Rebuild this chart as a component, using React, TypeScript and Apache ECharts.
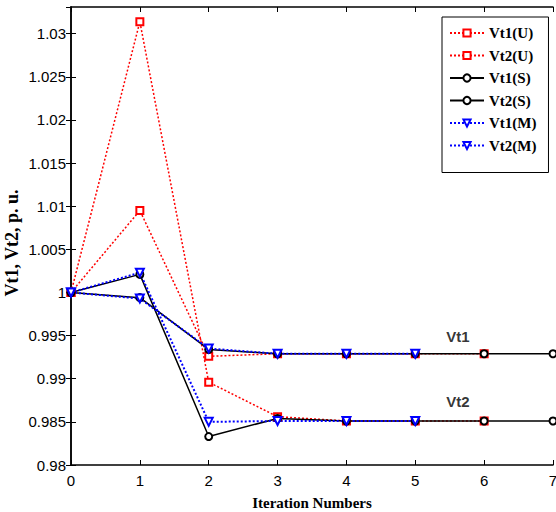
import React, { useEffect, useRef } from "react";
import * as echarts from "echarts";

const iterations = [0, 1, 2, 3, 4, 5, 6, 7];
const vt1U = [1, 1.0095, 0.9926, 0.9929, 0.9929, 0.9929, 0.9929];
const vt2U = [1, 1.0314, 0.9896, 0.9856, 0.9851, 0.9851, 0.9851];
const vt1S = [1, 0.9994, 0.9934, 0.9929, 0.9929, 0.9929, 0.9929, 0.9929];
const vt2S = [1, 1.0021, 0.9833, 0.9854, 0.9851, 0.9851, 0.9851, 0.9851];
const vt1M = [1, 0.9993, 0.9935, 0.9929, 0.9929, 0.9929];
const vt2M = [1, 1.0023, 0.985, 0.9851, 0.9851, 0.9851];

const seriesNames = ["Vt1(U)", "Vt2(U)", "Vt1(S)", "Vt2(S)", "Vt1(M)", "Vt2(M)"];
const annotationLabels = ["Vt1", "Vt2"];
const annotationX = [5.62, 5.62];
const annotationY = [0.9949, 0.9874];

const pairs = (vals: number[]) => vals.map((v, i) => [iterations[i], v]);

const SERIF = "'Liberation Serif', 'Times New Roman', serif";
const SANS = "'Liberation Sans', Arial, sans-serif";

export default function App() {
  const ref = useRef<HTMLDivElement>(null);
  useEffect(() => {
    if (!ref.current) return;
    const chart = echarts.init(ref.current, undefined, { renderer: "svg" });
    const red = "#ff0000";
    const blue = "#0000ff";
    const black = "#000000";
    const mk = (name: string, vals: number[], color: string, symbol: string, size: number, lineType: any, width: number, rotate = 0) => ({
      name,
      type: "line",
      data: pairs(vals),
      symbol,
      symbolSize: size,
      symbolRotate: rotate,
      showAllSymbol: true,
      itemStyle: { color, borderColor: color, borderWidth: 1.5 },
      lineStyle: { color, width, type: lineType },
      z: 3,
    });
    const axisCommonX = {
      type: "value",
      min: 0,
      max: 7,
      interval: 1,
      splitLine: { show: false },
      axisLine: { show: true, lineStyle: { color: black, width: 1.5 } },
      axisTick: { show: true, inside: true, length: 5, lineStyle: { color: black, width: 1 } },
    };
    const axisCommonY = {
      type: "value",
      min: 0.98,
      max: 1.0331,
      interval: 0.005,
      splitLine: { show: false },
      axisLine: { show: true, lineStyle: { color: black, width: 1.5 } },
      axisTick: { show: true, inside: true, length: 5, lineStyle: { color: black, width: 1 } },
    };
    chart.setOption({
      animation: false,
      backgroundColor: "#ffffff",
      grid: { left: 71, right: 3, top: 7, bottom: 47, containLabel: false, outerBoundsMode: "none" },
      legend: {
        data: seriesNames,
        orient: "vertical",
        left: 442,
        top: 17,
        padding: [8, 12, 19, 7],
        itemWidth: 34,
        itemHeight: 9,
        itemGap: 6.5,
        backgroundColor: "#ffffff",
        borderColor: black,
        borderWidth: 1,
        borderRadius: 0,
        textStyle: { fontFamily: SERIF, fontWeight: "bold", fontSize: 15, color: black, lineHeight: 16 },
      },
      xAxis: [
        {
          ...axisCommonX,
          position: "bottom",
          name: "Iteration Numbers",
          nameLocation: "middle",
          nameGap: 30,
          nameMoveOverlap: false,
          nameTextStyle: { fontFamily: SERIF, fontWeight: "bold", fontSize: 15, color: black },
          axisLabel: { show: true, fontFamily: SANS, fontSize: 15, color: black, margin: 8 },
        },
        {
          ...axisCommonX,
          position: "top",
          axisLabel: { show: false },
        },
      ],
      yAxis: [
        {
          ...axisCommonY,
          position: "left",
          name: "Vt1, Vt2, p. u.",
          nameLocation: "middle",
          nameGap: 50,
          nameMoveOverlap: false,
          nameTextStyle: { fontFamily: SERIF, fontWeight: "bold", fontSize: 18, color: black, padding: [0, 14, 0, 0] },
          axisLabel: { show: true, fontFamily: SANS, fontSize: 15, color: black, margin: 5, showMaxLabel: false },
        },
        {
          ...axisCommonY,
          position: "right",
          axisLabel: { show: false },
        },
      ],
      series: [
        mk(seriesNames[0], vt1U, red, "emptyRect", 7, [2, 2], 1.5),
        mk(seriesNames[1], vt2U, red, "emptyRect", 7, [2, 2], 1.5),
        mk(seriesNames[2], vt1S, black, "emptyCircle", 7, "solid", 1.5),
        mk(seriesNames[3], vt2S, black, "emptyCircle", 7, "solid", 1.5),
        mk(seriesNames[4], vt1M, blue, "emptyTriangle", 8, [2, 2], 2, 180),
        mk(seriesNames[5], vt2M, blue, "emptyTriangle", 8, [2, 2], 2, 180),
        {
          name: "annotations",
          type: "scatter",
          symbolSize: 0,
          data: annotationLabels.map((t, i) => ({ name: t, value: [annotationX[i], annotationY[i]] })),
          label: {
            show: true,
            position: "inside",
            formatter: "{b}",
            fontFamily: SANS,
            fontWeight: "bold",
            fontSize: 15,
            color: black,
          },
          silent: true,
          z: 5,
        },
      ],
    });
    return () => chart.dispose();
  }, []);
  return <div ref={ref} style={{ position: "fixed", left: 0, top: 0, width: 556, height: 512 }} />;
}
